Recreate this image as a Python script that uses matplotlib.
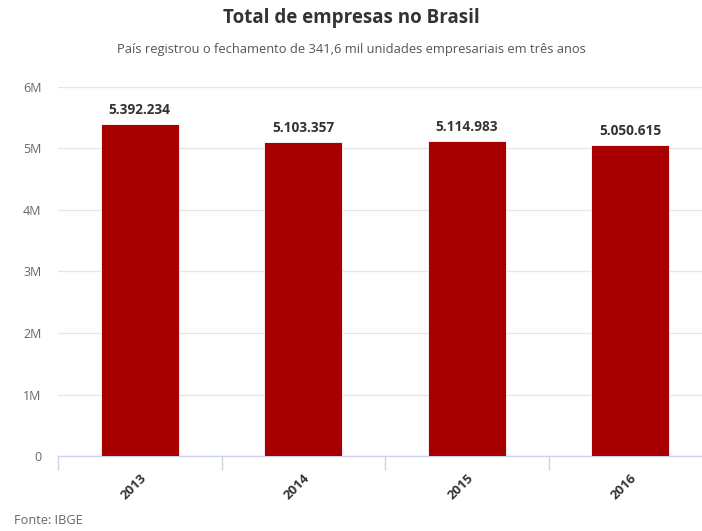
import matplotlib
matplotlib.use("Agg")
import matplotlib.pyplot as plt
from matplotlib.ticker import FixedLocator

years = ["2013", "2014", "2015", "2016"]
values = [5392234, 5103357, 5114983, 5050615]
value_labels = ["5.392.234", "5.103.357", "5.114.983", "5.050.615"]
yticks = [0, 1e6, 2e6, 3e6, 4e6, 5e6, 6e6]
ytick_labels = ["0", "1M", "2M", "3M", "4M", "5M", "6M"]

plt.rcParams['font.family'] = ['Open Sans', 'DejaVu Sans']

W, H = 702, 531
fig = plt.figure(figsize=(W / 100, H / 100), dpi=100)
left, right, top, bottom = 58, 712, 87, 456
ax = fig.add_axes([left / W, (H - bottom) / H, (right - left) / W, (bottom - top) / H])

x = list(range(len(years)))
ax.bar(x, values, width=78 / 163.5, color="#a80000", edgecolor="#ffffff", linewidth=0.6, zorder=3)
ax.set_xlim(-0.5, len(years) - 0.5)
ax.set_ylim(0, 6e6)

for xi, v, lab in zip(x, values, value_labels):
    ax.annotate(lab, (xi, v), xytext=(0, 5), textcoords="offset points",
                ha="center", va="bottom", fontsize=9.8, fontweight="bold", color="#333333")

ax.set_yticks(yticks)
ax.set_yticklabels(ytick_labels, color="#666666", fontsize=9)
ax.tick_params(axis="y", length=0, pad=12)
ax.yaxis.grid(True, color="#e6e6e6", linewidth=1, zorder=0)
ax.set_axisbelow(True)

ax.set_xticks(x)
ax.set_xticklabels(years, rotation=45, ha="right", rotation_mode="anchor",
                   fontsize=9.5, fontweight="bold", color="#333333")
ax.tick_params(axis="x", length=0, pad=11)
ax.xaxis.set_minor_locator(FixedLocator([-0.5, 0.5, 1.5, 2.5, 3.5]))
ax.tick_params(axis="x", which="minor", length=10, color="#ccd6eb", width=1)

for s in ["top", "right", "left"]:
    ax.spines[s].set_visible(False)
ax.spines["bottom"].set_color("#ccd6eb")
ax.spines["bottom"].set_linewidth(1)

fig.text(0.5, 1 - 18 / H, "Total de empresas no Brasil", ha="center", va="center",
         fontsize=13.5, fontweight="bold", color="#333333")
fig.text(0.5, 1 - 50 / H, "País registrou o fechamento de 341,6 mil unidades empresariais em três anos",
         ha="center", va="center", fontsize=9.3, color="#555555")
fig.text(14 / W, 1 - 521 / H, "Fonte: IBGE", ha="left", va="center", fontsize=9.2, color="#666666")

fig.savefig("out.png", dpi=100)
